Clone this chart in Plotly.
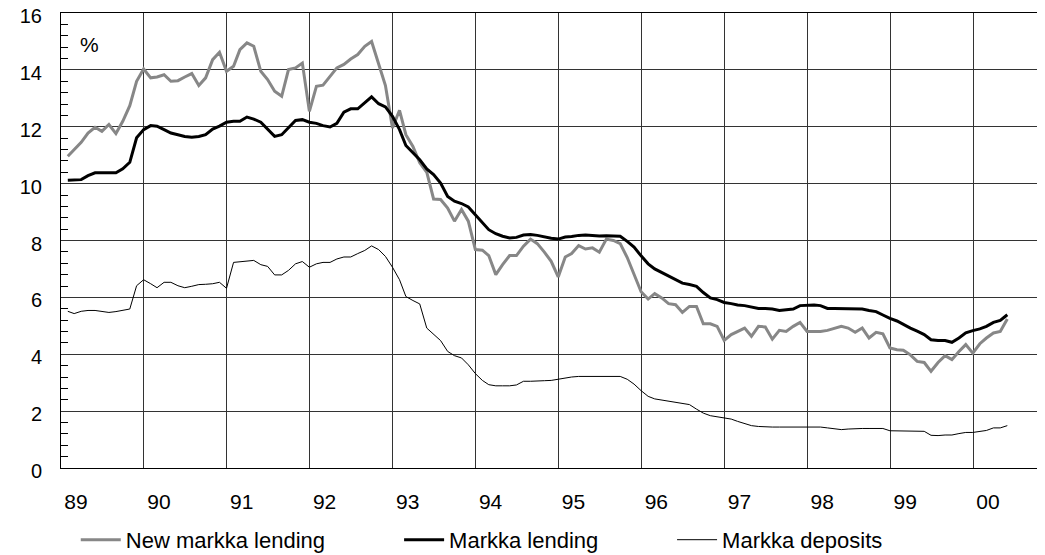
import pandas as pd
import plotly.graph_objects as go

# Monthly observations, Jan 1989 - May 2000 (end of month)
start_month = "1989-01-31"
n_months = 137

new_markka_lending = [
    10.96, 11.20, 11.45, 11.78, 11.98, 11.84, 12.08, 11.76, 12.19, 12.74, 13.60, 14.03,  # 1989
    13.72, 13.75, 13.83, 13.60, 13.62, 13.75, 13.87, 13.45, 13.72, 14.36, 14.62, 13.95,  # 1990
    14.13, 14.71, 14.95, 14.83, 13.95, 13.66, 13.25, 13.07, 14.01, 14.07, 14.24, 12.54,  # 1991
    13.42, 13.46, 13.75, 14.07, 14.19, 14.38, 14.54, 14.83, 15.00, 14.20, 13.45, 11.96,  # 1992
    12.58, 11.72, 11.31, 10.73, 10.40, 9.46, 9.44, 9.14, 8.68, 9.09, 8.68, 7.68,         # 1993
    7.66, 7.47, 6.80, 7.15, 7.47, 7.47, 7.80, 8.05, 7.89, 7.59, 7.27, 6.72,              # 1994
    7.42, 7.54, 7.82, 7.70, 7.74, 7.59, 8.05, 8.00, 7.89, 7.40, 6.83, 6.20,              # 1995
    5.94, 6.13, 5.98, 5.78, 5.74, 5.47, 5.68, 5.68, 5.07, 5.07, 4.98, 4.49,              # 1996
    4.69, 4.80, 4.92, 4.63, 4.98, 4.96, 4.53, 4.84, 4.80, 4.98, 5.12, 4.80,              # 1997
    4.80, 4.80, 4.84, 4.92, 4.98, 4.92, 4.77, 4.92, 4.57, 4.77, 4.72, 4.22,              # 1998
    4.16, 4.14, 3.98, 3.75, 3.71, 3.40, 3.71, 3.95, 3.81, 4.10, 4.34, 4.04,              # 1999
    4.37, 4.57, 4.75, 4.80, 5.24,                                                        # 2000
]

markka_lending = [
    10.12, 10.12, 10.14, 10.28, 10.38, 10.38, 10.38, 10.38, 10.52, 10.75, 11.61, 11.90,  # 1989
    12.04, 12.02, 11.90, 11.78, 11.72, 11.66, 11.63, 11.66, 11.72, 11.92, 12.02, 12.16,  # 1990
    12.19, 12.19, 12.34, 12.27, 12.16, 11.92, 11.66, 11.72, 11.96, 12.22, 12.25, 12.16,  # 1991
    12.12, 12.04, 11.99, 12.12, 12.51, 12.63, 12.63, 12.84, 13.05, 12.81, 12.70, 12.37,  # 1992
    11.90, 11.34, 11.08, 10.84, 10.52, 10.32, 10.02, 9.55, 9.38, 9.30, 9.18, 8.91,       # 1993
    8.64, 8.38, 8.24, 8.15, 8.09, 8.11, 8.19, 8.21, 8.18, 8.12, 8.08, 8.05,              # 1994
    8.12, 8.14, 8.18, 8.19, 8.17, 8.16, 8.17, 8.17, 8.15, 7.97, 7.77, 7.46,              # 1995
    7.18, 7.00, 6.88, 6.76, 6.62, 6.50, 6.45, 6.39, 6.17, 5.98, 5.92, 5.82,              # 1996
    5.78, 5.73, 5.71, 5.66, 5.61, 5.61, 5.59, 5.54, 5.57, 5.59, 5.71, 5.73,              # 1997
    5.73, 5.71, 5.61, 5.61, 5.61, 5.61, 5.61, 5.59, 5.54, 5.50, 5.38, 5.26,              # 1998
    5.17, 5.04, 4.92, 4.81, 4.69, 4.51, 4.48, 4.48, 4.42, 4.57, 4.75, 4.83,              # 1999
    4.89, 4.98, 5.12, 5.19, 5.39,                                                        # 2000
]

markka_deposits = [
    5.51, 5.43, 5.51, 5.54, 5.54, 5.51, 5.47, 5.50, 5.54, 5.59, 6.41, 6.62,              # 1989
    6.48, 6.34, 6.53, 6.53, 6.41, 6.34, 6.39, 6.45, 6.46, 6.48, 6.53, 6.32,              # 1990
    7.23, 7.25, 7.29, 7.30, 7.15, 7.09, 6.79, 6.79, 6.95, 7.18, 7.26, 7.06,              # 1991
    7.18, 7.23, 7.23, 7.35, 7.42, 7.42, 7.54, 7.65, 7.81, 7.68, 7.44, 7.06,              # 1992
    6.62, 6.03, 5.89, 5.77, 4.92, 4.72, 4.48, 4.10, 3.95, 3.87, 3.63, 3.32,              # 1993
    3.08, 2.93, 2.89, 2.89, 2.89, 2.92, 3.05, 3.05, 3.07, 3.07, 3.08, 3.13,              # 1994
    3.16, 3.20, 3.22, 3.22, 3.22, 3.22, 3.22, 3.22, 3.22, 3.12, 2.95, 2.72,              # 1995
    2.52, 2.43, 2.39, 2.34, 2.29, 2.26, 2.23, 2.07, 1.93, 1.84, 1.80, 1.76,              # 1996
    1.72, 1.64, 1.56, 1.49, 1.46, 1.44, 1.44, 1.44, 1.44, 1.44, 1.44, 1.46,              # 1997
    1.44, 1.44, 1.41, 1.39, 1.35, 1.37, 1.39, 1.39, 1.39, 1.39, 1.39, 1.31,              # 1998
    1.31, 1.31, 1.29, 1.29, 1.29, 1.15, 1.14, 1.16, 1.16, 1.21, 1.25, 1.25,              # 1999
    1.29, 1.32, 1.41, 1.41, 1.49,                                                        # 2000
]

series_names = ["New markka lending", "Markka lending", "Markka deposits"]
unit_label = "%"

try:
    months = pd.date_range(start_month, periods=n_months, freq="ME")
except Exception:
    months = pd.date_range(start_month, periods=n_months, freq="M")

FONT = "Liberation Sans, Arial, sans-serif"

fig = go.Figure()
fig.add_trace(go.Scatter(x=months, y=new_markka_lending, mode="lines", name=series_names[0],
                         line=dict(color="#878787", width=3), legend="legend"))
fig.add_trace(go.Scatter(x=months, y=markka_lending, mode="lines", name=series_names[1],
                         line=dict(color="#000000", width=3), legend="legend2"))
fig.add_trace(go.Scatter(x=months, y=markka_deposits, mode="lines", name=series_names[2],
                         line=dict(color="#000000", width=1), legend="legend3"))

legend_common = dict(orientation="h", yanchor="middle", y=-0.158, xanchor="left",
                     itemwidth=40, bgcolor="rgba(0,0,0,0)",
                     font=dict(family=FONT, size=22, color="#000000"))

# The page body has an 8px default margin, so the figure is 8px smaller
# than the window and the margins are reduced accordingly.
fig.update_layout(
    template="none",
    width=1037, height=547,
    margin=dict(l=53, r=0, t=5, b=87, autoexpand=False),
    paper_bgcolor="white", plot_bgcolor="white",
    font=dict(family=FONT, size=21, color="#000000"),
    legend=dict(x=0.015, **legend_common),
    legend2=dict(x=0.3436, **legend_common),
    legend3=dict(x=0.621, **legend_common),
    showlegend=True,
    xaxis=dict(
        type="date",
        range=["1989-01-01", "2000-11-13"],
        tick0="1989-01-01", dtick="M12", tickformat="%y",
        showgrid=True, gridcolor="#333333", gridwidth=1,
        showline=True, linecolor="#000000", linewidth=1, mirror=True,
        ticks="", ticklabelshift=15, ticklabelstandoff=15,
        ticklabeloverflow="allow",
        zeroline=False, automargin=False,
    ),
    yaxis=dict(
        range=[0, 16], dtick=2, tick0=0,
        showgrid=True, gridcolor="#333333", gridwidth=1,
        showline=True, linecolor="#000000", linewidth=1,
        ticks="", ticklabelstandoff=14, ticklabelshift=3,
        ticklabeloverflow="allow",
        tickfont=dict(family=FONT, size=20, color="#000000"),
        minor=dict(dtick=0.4, tick0=0, ticks="inside", ticklen=7,
                   tickcolor="#000000", tickwidth=1, showgrid=False),
        zeroline=False, automargin=False,
    ),
    annotations=[dict(text=unit_label, xref="paper", yref="paper", x=0.029, y=0.931,
                      xanchor="center", yanchor="middle", showarrow=False,
                      font=dict(family=FONT, size=21, color="#000000"))],
)

fig.write_html("out.html")
